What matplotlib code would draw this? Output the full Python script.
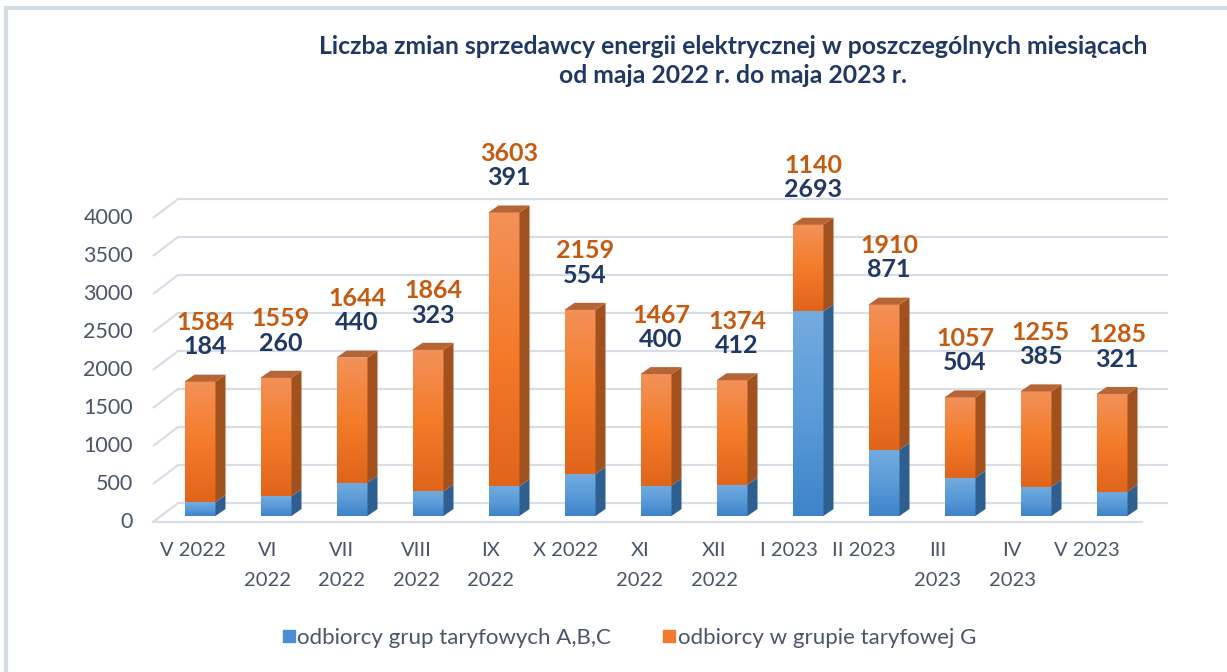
import matplotlib
matplotlib.use("Agg")
import matplotlib.pyplot as plt
import numpy as np
from matplotlib.colors import LinearSegmentedColormap
from matplotlib.patches import Polygon, Rectangle
from matplotlib.lines import Line2D

plt.rcParams['font.family'] = ['Lato', 'DejaVu Sans']

# data
months = ["V 2022", "VI\n2022", "VII\n2022", "VIII\n2022", "IX\n2022", "X 2022",
          "XI\n2022", "XII\n2022", "I 2023", "II 2023", "III\n2023", "IV\n2023", "V 2023"]
abc = [184, 260, 440, 323, 391, 554, 400, 412, 2693, 871, 504, 385, 321]
g = [1584, 1559, 1644, 1864, 3603, 2159, 1467, 1374, 1140, 1910, 1057, 1255, 1285]
yticks = [0, 500, 1000, 1500, 2000, 2500, 3000, 3500, 4000]

title = ("Liczba zmian sprzedawcy energii elektrycznej w poszczególnych miesiącach\n"
         "od maja 2022 r. do maja 2023 r.")
leg_labels = ["odbiorcy grup taryfowych A,B,C", "odbiorcy w grupie taryfowej G"]

W, H = 1227, 672
fig = plt.figure(figsize=(W / 100, H / 100), dpi=100)

# pixel helpers (bar front plane: category i at x=200+76*i px, value 0 at y=516 px)
PX_X = 1 / 76.0
PX_Y = 1 / 0.076
left, right, top, bottom = 140, 1180, 130, 530
ax = fig.add_axes([left / W, 1 - bottom / H, (right - left) / W, (bottom - top) / H])
ax.axis("off")

# 3d geometry
bw = 31 * PX_X
ddx, ddy = 10 * PX_X, 7 * PX_Y          # bar depth
fdx, fdy = -8 * PX_X, -6 * PX_Y         # front of floor relative to bar face
bdx, bdy = 17 * PX_X, 13 * PX_Y         # back wall relative to bar face
gx_front = (153 - 200) * PX_X
gx_end = (1168 - 200) * PX_X
floor_end = (1142 - 200) * PX_X
gcol = "#D9DEE6"
tcol = "#4A5568"

for v in yticks:
    ax.plot([gx_front, gx_front + bdx - fdx, gx_end], [v + fdy, v + bdy, v + bdy],
            color=gcol, lw=1.6, zorder=1, solid_capstyle="butt")
    ax.text((133 - 200) * PX_X, v + fdy, str(v), ha="right", va="center",
            fontsize=15.5, color=tcol, clip_on=False)
ax.plot([gx_front, floor_end], [fdy, fdy], color=gcol, lw=1.6, zorder=1)

cm_blue = LinearSegmentedColormap.from_list("b", ["#3E84CA", "#5B9BD8", "#73ABDF"])
cm_orng = LinearSegmentedColormap.from_list("o", ["#E0651B", "#F47C2A", "#F39158"])
grad = np.linspace(0, 1, 64).reshape(-1, 1)

x = np.arange(len(months))
for i in x:
    segs = [(0, abc[i], cm_blue, "#2F5F8E", None),
            (abc[i], abc[i] + g[i], cm_orng, "#A1511D", "#B56536")]
    for y0, y1, cm, side, topc in segs:
        xl, xr = i - bw / 2, i + bw / 2
        ax.imshow(grad, cmap=cm, origin="lower", aspect="auto",
                  extent=[xl, xr, y0, y1], zorder=3, interpolation="bilinear")
        ax.add_patch(Polygon([(xr, y0), (xr + ddx, y0 + ddy), (xr + ddx, y1 + ddy), (xr, y1)],
                             closed=True, facecolor=side, edgecolor="none", zorder=3))
        if topc:
            ax.add_patch(Polygon([(xl, y1), (xl + ddx, y1 + ddy), (xr + ddx, y1 + ddy), (xr, y1)],
                                 closed=True, facecolor=topc, edgecolor="none", zorder=3))
    tot = abc[i] + g[i]
    ax.annotate(str(abc[i]), (i + 5 * PX_X, tot), xytext=(0, 25), textcoords="offset points",
                ha="center", va="center", fontsize=18, fontweight="bold", color="#203864")
    ax.annotate(str(g[i]), (i + 5 * PX_X, tot), xytext=(0, 42.5), textcoords="offset points",
                ha="center", va="center", fontsize=18, fontweight="bold", color="#C55A11")
    # category labels (slightly compressed spacing as in the source)
    ax.text(-7 * PX_X + 0.98 * i, (516 - 542) * PX_Y, months[i], ha="center", va="top",
            fontsize=14.5, color=tcol, linespacing=1.95, clip_on=False)

ax.set_xlim((left - 200) * PX_X, (right - 200) * PX_X)
ax.set_ylim((516 - bottom) * PX_Y, (516 - top) * PX_Y)

fig.text(733 / W, 1 - 61 / H, title, ha="center", va="center", fontsize=17.8,
         fontweight="bold", color="#1F3864", linespacing=1.3)

handles = [Line2D([], [], marker="s", ls="none", markersize=8, color="#4A8FD4"),
           Line2D([], [], marker="s", ls="none", markersize=8, color="#F07B2C")]
fig.legend(handles, leg_labels, loc="center", bbox_to_anchor=(628 / W, 1 - 638 / H),
           ncol=2, frameon=False, fontsize=16, labelcolor=tcol,
           handletextpad=0.0, columnspacing=2.2, handlelength=0.8)

fig.patches.append(Rectangle((6 / W, -0.05), 1.2, 1 - 8 / H + 0.05, transform=fig.transFigure,
                             fill=False, edgecolor="#D6DCE4", lw=3))

fig.savefig("out.png", dpi=100, facecolor="white")
